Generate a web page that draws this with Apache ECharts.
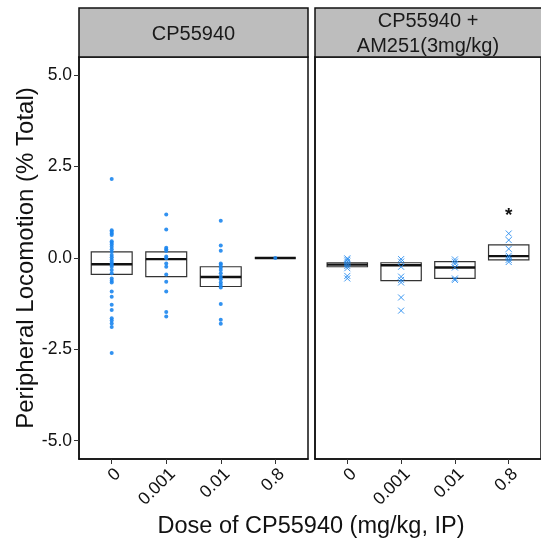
<!DOCTYPE html>
<html><head><meta charset="utf-8">
<script src="https://cdn.jsdelivr.net/npm/echarts@6/dist/echarts.min.js"></script>
<style>html,body{margin:0;padding:0;background:#fff}#c{width:541px;height:550px}</style>
</head><body><div id="c"></div>
<script>
// ---- labels ----
const doseLabels = ['0', '0.001', '0.01', '0.8'];
const panelTitles = ['CP55940', 'CP55940 +\nAM251(3mg/kg)'];
const yTicks = [-5, -2.5, 0, 2.5, 5];
const yTitle = 'Peripheral Locomotion (% Total)';
const xTitle = 'Dose of CP55940 (mg/kg, IP)';

// ---- individual values: CP55940 panel ----
const cp_0 = [2.16, 0.76, 0.72, 0.67, 0.63, 0.46, 0.42, 0.37, 0.31, 0.24, 0.17, 0.08, 0.02, -0.05, -0.10, -0.15, -0.19, -0.24, -0.33, -0.42, -0.56, -0.62, -0.67, -0.92, -1.06, -1.28, -1.42, -1.65, -1.71, -1.79, -1.89, -2.60];
const cp_0001 = [1.19, 0.78, 0.28, 0.24, 0.19, 0.04, -0.01, -0.15, -0.24, -0.45, -0.65, -0.92, -1.48, -1.60];
const cp_001 = [1.02, 0.34, 0.20, -0.15, -0.19, -0.26, -0.33, -0.42, -0.51, -0.58, -0.67, -0.74, -0.81, -1.26, -1.69, -1.80];
const cp_08 = [0.0];

// ---- individual values: CP55940 + AM251 panel ----
const am_0 = [-0.01, -0.05, -0.10, -0.16, -0.22, -0.28, -0.49, -0.56];
const am_0001 = [-0.03, -0.10, -0.24, -0.51, -0.60, -0.67, -1.08, -1.44];
const am_001 = [-0.04, -0.10, -0.16, -0.26, -0.56, -0.60];
const am_08 = [0.67, 0.49, 0.25, 0.06, 0.01, -0.05, -0.11];

// ---- box summaries [lower, middle, upper] per dose ----
const cpBox = [[-0.45, -0.17, 0.17], [-0.51, -0.03, 0.17], [-0.78, -0.52, -0.24], [0.0, 0.0, 0.0]];
const amBox = [[-0.24, -0.18, -0.13], [-0.62, -0.20, -0.13], [-0.56, -0.26, -0.10], [-0.05, 0.05, 0.36]];

// ---- significance marks [dose index (1-based), value] ----
const sigMarks = [[4, 1.27]];

const FONT = '"Liberation Sans", Arial, sans-serif';
const BLUE = '#1C86EE';

function pts(arr, i) { return arr.map(v => [i, v]); }

function boxRender(params, api) {
  const x = api.value(0), lo = api.value(1), md = api.value(2), hi = api.value(3);
  const w = 0.375;
  const a = api.coord([x - w, hi]);
  const b = api.coord([x + w, lo]);
  const m1 = api.coord([x - w, md]);
  const m2 = api.coord([x + w, md]);
  return {
    type: 'group',
    children: [
      { type: 'rect', shape: { x: a[0], y: a[1], width: b[0] - a[0], height: b[1] - a[1] },
        style: { fill: 'rgba(0,0,0,0)', stroke: '#333', lineWidth: 1.2 } },
      { type: 'line', shape: { x1: m1[0], y1: m1[1], x2: m2[0], y2: m2[1] },
        style: { stroke: '#111', lineWidth: 2.4 } }
    ]
  };
}

function starRender(params, api) {
  const p = api.coord([api.value(0), api.value(1)]);
  return { type: 'text', x: p[0], y: p[1] + 4,
    style: { text: '*', font: 'bold 19px ' + FONT, fill: '#111', align: 'center', verticalAlign: 'middle' } };
}

const gridW = 229, gridTop = 57, gridH = 402;
const grids = [
  { left: 79, top: gridTop, width: gridW, height: gridH, show: true, borderColor: '#111', borderWidth: 1.5, backgroundColor: 'rgba(0,0,0,0)' },
  { left: 315, top: gridTop, width: gridW, height: gridH, show: true, borderColor: '#111', borderWidth: 1.5, backgroundColor: 'rgba(0,0,0,0)' }
];

function xAxis(gi) {
  return {
    type: 'value', gridIndex: gi, min: 0.4, max: 4.6,
    axisLine: { show: true, onZero: false, lineStyle: { color: '#111', width: 1.5 } },
    axisTick: { show: true, length: 5, customValues: [1, 2, 3, 4], lineStyle: { color: '#333' } },
    axisLabel: { show: true, customValues: [1, 2, 3, 4], formatter: v => doseLabels[Math.round(v) - 1],
      rotate: 45, margin: 6, verticalAlign: 'top', fontSize: 17.5, color: '#111', fontFamily: FONT },
    splitLine: { show: false }
  };
}
function yAxis(gi) {
  return {
    type: 'value', gridIndex: gi, min: -5.5, max: 5.5,
    axisLine: { show: true, onZero: false, lineStyle: { color: '#111', width: 1.5 } },
    axisTick: { show: gi === 0, length: 5, customValues: yTicks, lineStyle: { color: '#333' } },
    axisLabel: { show: gi === 0, customValues: yTicks, formatter: v => v.toFixed(1), fontSize: 17.5, margin: 7, color: '#111', fontFamily: FONT },
    splitLine: { show: false },
    name: gi === 0 ? yTitle : '', nameLocation: 'middle', nameGap: 33,
    nameTextStyle: { fontSize: 24, color: '#111', fontFamily: FONT }
  };
}

const series = [];
[cpBox, amBox].forEach((bx, gi) => {
  series.push({ type: 'custom', xAxisIndex: gi, yAxisIndex: gi, renderItem: boxRender,
    data: bx.map((b, i) => [i + 1, b[0], b[1], b[2]]), z: 2, silent: true });
});
[cp_0, cp_0001, cp_001, cp_08].forEach((arr, i) => {
  series.push({ type: 'scatter', xAxisIndex: 0, yAxisIndex: 0, data: pts(arr, i + 1), symbol: 'circle', symbolSize: 4,
    itemStyle: { color: BLUE, opacity: 0.9 }, z: 3, silent: true });
});
[am_0, am_0001, am_001, am_08].forEach((arr, i) => {
  series.push({ type: 'scatter', xAxisIndex: 1, yAxisIndex: 1, data: pts(arr, i + 1),
    symbol: 'path://M0,0L10,10M10,0L0,10', symbolSize: 6,
    itemStyle: { color: 'rgba(0,0,0,0)', borderColor: BLUE, borderWidth: 1, opacity: 0.85 }, z: 3, silent: true });
});
series.push({ type: 'custom', xAxisIndex: 1, yAxisIndex: 1, renderItem: starRender, data: sigMarks, z: 4, silent: true });

const strips = [];
[79, 315].forEach((lx, i) => {
  strips.push({ type: 'rect', shape: { x: lx, y: 8, width: gridW, height: gridTop - 8 },
    style: { fill: '#bdbdbd', stroke: '#111', lineWidth: 1.5 }, z: 10 });
  strips.push({ type: 'text', x: lx + gridW / 2 - (i === 1 ? 1.5 : 0), y: 8 + (gridTop - 8) / 2 + 1.5,
    style: { text: panelTitles[i], font: '20px ' + FONT, fill: '#1a1a1a', align: 'center', verticalAlign: 'middle', lineHeight: 25 }, z: 11 });
});
strips.push({ type: 'text', x: 311, y: 527,
  style: { text: xTitle, font: '23.5px ' + FONT, fill: '#111', align: 'center', verticalAlign: 'middle' }, z: 11 });

const chart = echarts.init(document.getElementById('c'), null, { renderer: 'canvas' });
chart.setOption({
  animation: false,
  backgroundColor: '#fff',
  grid: grids,
  xAxis: [xAxis(0), xAxis(1)],
  yAxis: [yAxis(0), yAxis(1)],
  series: series,
  graphic: strips
});
</script>
</body></html>
